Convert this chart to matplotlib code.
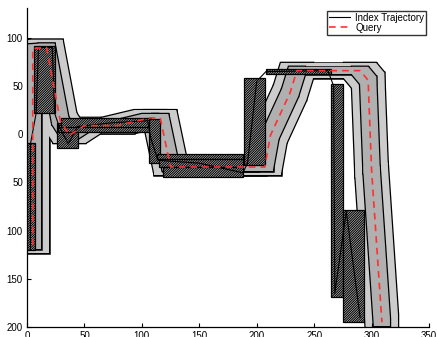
import matplotlib
matplotlib.use("Agg")
import matplotlib.pyplot as plt
from matplotlib.patches import Polygon, Rectangle
import numpy as np

plt.rcParams['font.family'] = ['Liberation Sans', 'DejaVu Sans']
plt.rcParams['hatch.linewidth'] = 0.8

# query trajectory (x, y)
query_x = [5, 5, 17, 29, 37, 50, 79, 107, 116, 125, 194, 207, 212, 229, 235, 290, 297, 300, 309]
query_y = [-115, 89, 90, 14, -1, 9, 9, 17, 17, -34, -34, -34, -1, 43, 66, 66, 56, -37, -195]

# index trajectory (x, y)
index_x = [3, 3, 8, 10, 22, 24, 28, 36, 44, 75, 105, 108, 114, 150, 188, 192, 200, 208, 262, 267, 268, 278, 290]
index_y = [-120, -10, 22, 90, 90, 22, 8, -10, 8, 12, 14, -5, -27, -30, -40, -30, 55, 65, 66, 50, -165, -80, -190]

# index MBRs: x0, y0, x1, y1
mbr_x0 = [0, 6, 26, 27, 30, 106, 113, 115, 118, 189, 208, 265, 275]
mbr_y0 = [-120, 22, -14, 2, 8, -30, -26, -34, -44, -32, 62, -169, -195]
mbr_x1 = [7, 24, 44, 107, 108, 116, 188, 188, 188, 207, 265, 275, 293]
mbr_y1 = [-9, 92, 12, 10, 17, 16, -20, -26, -34, 58, 68, 52, -79]

# envelope half-widths around the query (outer, inner)
env_dx = [14, 7]
env_dy = [8, 4]
env_col = ['0.80', '0.69']

y_ticks = [100, 50, 0, -50, -100, -150, -200]
y_labels = ['100', '50', '0', '50', '100', '150', '200']
x_ticks = [0, 50, 100, 150, 200, 250, 300, 350]


def hull(pts):
    pts = sorted(set(pts))
    def cross(o, a, b):
        return (a[0] - o[0]) * (b[1] - o[1]) - (a[1] - o[1]) * (b[0] - o[0])
    lower, upper = [], []
    for p in pts:
        while len(lower) >= 2 and cross(lower[-2], lower[-1], p) <= 0:
            lower.pop()
        lower.append(p)
    for p in reversed(pts):
        while len(upper) >= 2 and cross(upper[-2], upper[-1], p) <= 0:
            upper.pop()
        upper.append(p)
    return lower[:-1] + upper[:-1]


def envelope(ax, xs, ys, dx, dy, color, z):
    shapes = []
    for i in range(len(xs) - 1):
        corners = []
        for (px, py) in [(xs[i], ys[i]), (xs[i + 1], ys[i + 1])]:
            for sx in (-dx, dx):
                for sy in (-dy, dy):
                    corners.append((px + sx, py + sy))
        shapes.append(hull(corners))
    # black outline first, then fill on top so only the union's border stays
    for s in shapes:
        ax.add_patch(Polygon(s, closed=True, facecolor=color, edgecolor='black',
                             lw=1.8, zorder=z))
    for s in shapes:
        ax.add_patch(Polygon(s, closed=True, facecolor=color, edgecolor='none',
                             zorder=z + 0.1))


fig = plt.figure(figsize=(4.37, 3.37), dpi=100)
ax = fig.add_axes([27 / 437, 10 / 337, 402 / 437, 319 / 337])

for k in range(2):
    envelope(ax, query_x, query_y, env_dx[k], env_dy[k], env_col[k], 1 + k)

for x0, y0, x1, y1 in zip(mbr_x0, mbr_y0, mbr_x1, mbr_y1):
    ax.add_patch(Rectangle((x0, y0), x1 - x0, y1 - y0, facecolor='0.85',
                           edgecolor='black', hatch='/' * 14, lw=0.9, zorder=3))

ax.plot(index_x, index_y, color='black', lw=0.8, zorder=4, label='Index Trajectory')
ax.plot(query_x, query_y, color='#ff3030', lw=1.2, ls=(0, (4, 3)), zorder=5, label='Query')

ax.set_xlim(0, 350)
ax.set_ylim(-200, 131)
ax.set_yticks(y_ticks)
ax.set_yticklabels(y_labels)
ax.set_xticks(x_ticks)
ax.tick_params(direction='in', length=3, labelsize=7, width=0.8, pad=3)
ax.spines['top'].set_visible(False)
ax.spines['right'].set_visible(False)
for sp in ('left', 'bottom'):
    ax.spines[sp].set_linewidth(0.9)

leg = ax.legend(loc='upper right', bbox_to_anchor=(1.0, 1.0), fontsize=7,
                frameon=True, fancybox=False, borderpad=0.2, labelspacing=0.0,
                handlelength=2.2, handletextpad=0.5, borderaxespad=0.3)
leg.get_frame().set_edgecolor('black')
leg.get_frame().set_linewidth(1.0)

fig.savefig('out.png', dpi=100)
